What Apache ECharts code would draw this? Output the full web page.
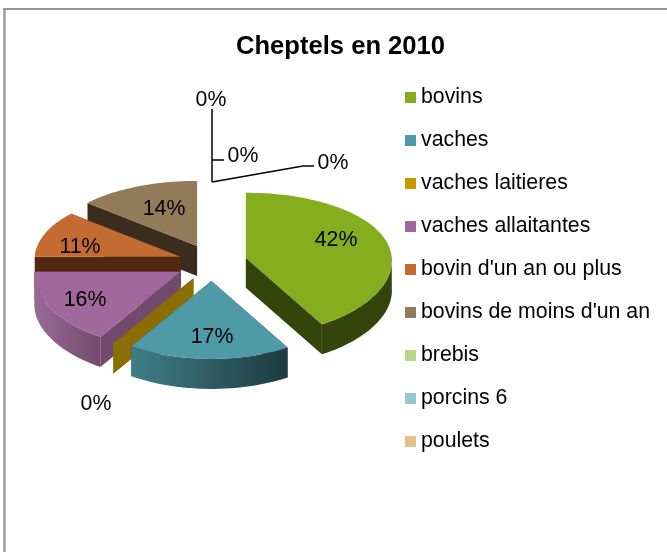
<!DOCTYPE html>
<html>
<head>
<meta charset="utf-8">
<style>
  html, body { margin: 0; padding: 0; background: #fff; }
  #chart { width: 667px; height: 552px; }
</style>
<script src="https://cdn.jsdelivr.net/npm/echarts@6/dist/echarts.min.js"></script>
</head>
<body>
<div id="chart"></div>
<script>
const categories = ['bovins', 'vaches', 'vaches laitieres', 'vaches allaitantes', "bovin d'un an ou plus", "bovins de moins d'un an", 'brebis', 'porcins 6', 'poulets']
const values = [41.6, 17.3, 0, 16.1, 11, 14, 0, 0, 0]

const topColors = ['#85AE1E', '#4E9AA6', '#C59B00', '#A0689C', '#C46A33', '#927B59', '#B8D68A', '#97C6CF', '#E3C285']
const cutColors = ['#35440A', '#1F3B42', '#8B6D00', '#724A6E', '#522810', '#3A2D1E', '#7F9A5A', '#6A8F97', '#A68C5C']
const sideColors = [['#35440A', '#35440A'], ['#3F7F88', '#1E3A41'], ['#8B6D00', '#8B6D00'], ['#9A6A97', '#734A6E'], ['#522810', '#522810'], ['#3A2D1E', '#3A2D1E'], ['#7F9A5A', '#7F9A5A'], ['#6A8F97', '#6A8F97'], ['#A68C5C', '#A68C5C']]

// back to front, so nearer slices cover the ones behind
const paintOrder = [8, 7, 6, 5, 4, 3, 2, 1, 0]
const explode = [1, 1, 1, 1.03, 0.95, 1, 1, 1, 1]

// where the percent labels sit
const labelPos = [[336, 240], [212, 337], [96, 404], [85, 300], [80, 247], [164, 209], [211, 100], [243, 156], [333, 163]]
const leaders = {
  6: [[212, 182], [212, 109]],
  7: [[212, 160], [224, 160]],
  8: [[212, 182], [303, 166], [314, 166]]
}

const pie = { cx: 212, cy: 262.6, rx: 146, ry: 71.5, kx: 0.04, ky: 0.09, ex: 35, ey: 18.4, depth: 30 }
const total = values.reduce((a, b) => a + b, 0)

function angleAt(idx) {
  let sum = 0
  for (let i = 0; i < idx; i++) sum += values[i]
  return sum / total * 360
}

function project(center, deg) {
  const u = Math.sin(deg * Math.PI / 180)
  const v = -Math.cos(deg * Math.PI / 180)
  return [
    center[0] + pie.rx * u * (1 + pie.kx * v),
    center[1] + pie.ry * v * (1 + pie.ky * v)
  ]
}

function arcPoints(center, from, to) {
  const pts = []
  const steps = Math.max(1, Math.ceil((to - from) / 2))
  for (let i = 0; i <= steps; i++) {
    pts.push(project(center, from + (to - from) * i / steps))
  }
  return pts
}

function down(p) {
  return [p[0], p[1] + pie.depth]
}

function renderSlice(idx) {
  return function (params, api) {
    const value = api.value(0)
    const start = angleAt(idx)
    const end = start + value / total * 360
    const mid = (start + end) / 2 * Math.PI / 180
    const center = [
      pie.cx + pie.ex * explode[idx] * Math.sin(mid),
      pie.cy - pie.ey * explode[idx] * Math.cos(mid)
    ]
    const children = []

    const cut = function (deg) {
      const p = project(center, deg)
      children.push({
        type: 'polygon',
        shape: { points: [center, p, down(p), down(center)] },
        style: { fill: cutColors[idx] }
      })
    }
    cut(start)
    cut(end)

    const sideFrom = Math.max(start, 90)
    const sideTo = Math.min(end, 270)
    if (sideTo > sideFrom) {
      const arc = arcPoints(center, sideFrom, sideTo)
      children.push({
        type: 'polygon',
        shape: { points: arc.concat(arc.map(down).reverse()) },
        style: {
          fill: new echarts.graphic.LinearGradient(0, 0, 1, 0, [
            { offset: 0, color: sideColors[idx][0] },
            { offset: 1, color: sideColors[idx][1] }
          ])
        }
      })
    }

    if (value > 0) {
      children.push({
        type: 'polygon',
        shape: { points: [center].concat(arcPoints(center, start, end)) },
        style: { fill: topColors[idx] }
      })
    }

    if (leaders[idx]) {
      children.push({
        type: 'polyline',
        shape: { points: leaders[idx] },
        style: { stroke: '#000', lineWidth: 1.5, fill: null }
      })
    }

    children.push({
      type: 'text',
      z2: 100,
      style: {
        x: labelPos[idx][0],
        y: labelPos[idx][1],
        text: Math.round(value / total * 100) + '%',
        fontFamily: 'Liberation Sans',
        fontSize: 21.3,
        fill: '#000',
        align: 'center',
        verticalAlign: 'middle'
      }
    })

    return { type: 'group', children: children }
  }
}

const chart = echarts.init(document.getElementById('chart'), null, { renderer: 'canvas' })

chart.setOption({
  animation: false,
  color: topColors,
  title: {
    text: 'Cheptels en 2010',
    left: 335.5,
    top: 29,
    textAlign: 'center',
    textStyle: {
      fontFamily: 'Liberation Sans',
      fontWeight: 'bold',
      fontSize: 25.6,
      color: '#000'
    }
  },
  legend: {
    orient: 'vertical',
    left: 400,
    top: 82,
    itemWidth: 11,
    itemHeight: 11,
    itemGap: 22,
    icon: 'rect',
    data: categories,
    textStyle: {
      fontFamily: 'Liberation Sans',
      fontSize: 21.3,
      color: '#000',
      padding: [0, 0, 0, 0]
    }
  },
  graphic: [
    { type: 'line', shape: { x1: 3, y1: 9, x2: 667, y2: 9 }, style: { stroke: '#959595', lineWidth: 2 }, z: -1 },
    { type: 'line', shape: { x1: 4.5, y1: 8, x2: 4.5, y2: 552 }, style: { stroke: '#A0A0A0', lineWidth: 2.5 }, z: -1 }
  ],
  series: categories.map(function (name, i) {
    return {
      type: 'custom',
      name: name,
      coordinateSystem: 'none',
      silent: true,
      z: 2 + paintOrder.indexOf(i),
      itemStyle: { color: topColors[i] },
      renderItem: renderSlice(i),
      data: [[values[i]]]
    }
  })
})
</script>
</body>
</html>
